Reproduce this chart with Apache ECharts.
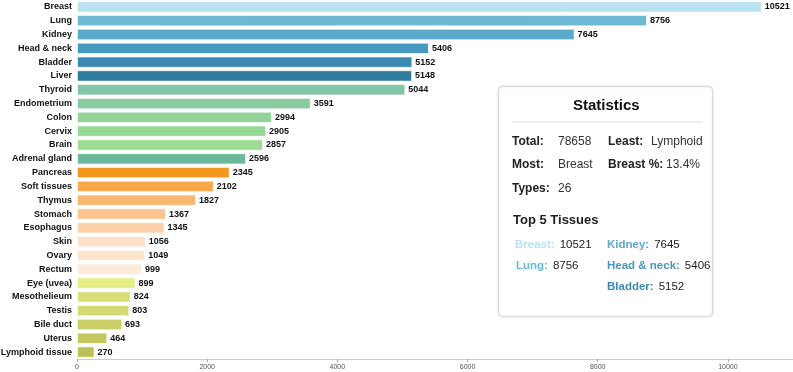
<!DOCTYPE html>
<html lang="en">
<head>
    <meta charset="UTF-8">
    <title>Tissue samples</title>
    <style type="text/css">
    body, html {
        width: 100%;
        height: 100%;
        margin: 0;
        padding: 0;
        background: #fff;
    }
    #main {
        width: 793px;
        height: 372px;
    }
    </style>
</head>
<body>
    <div id="main"></div>
    <script src="https://cdn.jsdelivr.net/npm/echarts@6/dist/echarts.min.js"></script>
    <script type="text/javascript">

    // tissues, top to bottom
    var tissues = ['Breast', 'Lung', 'Kidney', 'Head & neck', 'Bladder', 'Liver', 'Thyroid', 'Endometrium',
        'Colon', 'Cervix', 'Brain', 'Adrenal gland', 'Pancreas', 'Soft tissues', 'Thymus', 'Stomach',
        'Esophagus', 'Skin', 'Ovary', 'Rectum', 'Eye (uvea)', 'Mesothelieum', 'Testis', 'Bile duct',
        'Uterus', 'Lymphoid tissue'];
    var counts = [10521, 8756, 7645, 5406, 5152, 5148, 5044, 3591, 2994, 2905, 2857, 2596, 2345, 2102,
        1827, 1367, 1345, 1056, 1049, 999, 899, 824, 803, 693, 464, 270];
    var barColors = ['#b8e2f0', '#6cb8d5', '#5ba9c9', '#4798be', '#3c89b3', '#2f7ca0', '#84c4a8', '#8ccb9f',
        '#93d39a', '#98d895', '#9ddd93', '#6bb89b', '#f5961f', '#f8a84c', '#f9b572', '#fbc592',
        '#fcd0a8', '#fde2c8', '#fde4cc', '#fdeadb', '#e5ee84', '#d8df79', '#d4db74', '#c9cf66',
        '#c3c75e', '#bbc157'];
    var axisTicks = [0, 2000, 4000, 6000, 8000, 10000];

    var total = 0;
    for (var i = 0; i < counts.length; i++) total += counts[i];
    var pct = (counts[0] / total * 100).toFixed(1) + '%';

    var font = 'Liberation Sans, Arial, sans-serif';
    var chart = echarts.init(document.getElementById('main'));

    function txt(x, y, s, opt) {
        opt = opt || {};
        return {
            type: 'text', left: x, top: y,
            style: {
                text: s, fill: opt.color || '#222', font: (opt.bold ? 'bold ' : '') + (opt.size || 12) + 'px ' + font
            }
        };
    }

    var bx = 498, by = 86;
    var stats = [
        { type: 'rect', left: bx, top: by, shape: { width: 214, height: 230, r: 4 },
          style: { fill: '#fff', stroke: '#d8d8d8', lineWidth: 1, shadowBlur: 3, shadowColor: 'rgba(0,0,0,0.12)' } },
        txt(bx + 75, by + 12, 'Statistics', { bold: true, size: 15, color: '#111' }),
        { type: 'line', shape: { x1: bx + 14, y1: by + 36, x2: bx + 204, y2: by + 36 },
          style: { stroke: '#ddd', lineWidth: 1 } },
        txt(bx + 14, by + 50, 'Total:', { bold: true }),
        txt(bx + 60, by + 50, String(total), { color: '#333' }),
        txt(bx + 110, by + 50, 'Least:', { bold: true }),
        txt(bx + 153, by + 50, tissues[tissues.length - 1].split(' ')[0], { color: '#333' }),
        txt(bx + 14, by + 73, 'Most:', { bold: true }),
        txt(bx + 60, by + 73, tissues[0], { color: '#333' }),
        txt(bx + 110, by + 73, tissues[0] + ' %:', { bold: true }),
        txt(bx + 168, by + 73, pct, { color: '#333' }),
        txt(bx + 14, by + 97, 'Types:', { bold: true }),
        txt(bx + 60, by + 97, String(tissues.length), { color: '#333' }),
        txt(bx + 15, by + 128, 'Top 5 Tissues', { bold: true, size: 13 })
    ];
    // top 5 grid
    var top5pos = [[bx + 17, by + 153], [bx + 18, by + 174], [bx + 109, by + 153], [bx + 109, by + 174], [bx + 109, by + 195]];
    for (var k = 0; k < 5; k++) {
        var label = tissues[k] + ':';
        var w = echarts.format.getTextRect ? echarts.format.getTextRect(label, 'bold 11.5px ' + font).width : label.length * 6.5;
        stats.push(txt(top5pos[k][0], top5pos[k][1], label, { bold: true, color: barColors[k], size: 11.5 }));
        stats.push(txt(top5pos[k][0] + w + 5, top5pos[k][1], String(counts[k]), { color: '#222', size: 11.5 }));
    }

    var option = {
        animation: false,
        grid: {
            left: 77,
            right: 0,
            top: 0,
            bottom: 13,
            outerBoundsMode: 'none'
        },
        xAxis: {
            type: 'value',
            min: axisTicks[0],
            max: 11000,
            interval: axisTicks[1] - axisTicks[0],
            splitLine: { show: false },
            axisLine: { show: true, lineStyle: { color: '#ccc' } },
            axisTick: { show: true, length: 3, lineStyle: { color: '#aaa' } },
            axisLabel: {
                fontSize: 7, color: '#555', fontFamily: font, margin: 5, showMaxLabel: false,
                formatter: function (v) { return String(v); }
            }
        },
        yAxis: {
            type: 'category',
            inverse: true,
            data: tissues,
            axisLine: { show: false },
            axisTick: { show: false },
            axisLabel: { fontSize: 9, fontWeight: 'bold', color: '#111', fontFamily: font, margin: 5 }
        },
        series: [{
            type: 'bar',
            barCategoryGap: '18%',
            data: counts.map(function (v, i) {
                return { value: v, itemStyle: { color: barColors[i] } };
            }),
            itemStyle: { borderColor: 'rgba(255,255,255,0.6)', borderWidth: 1 },
            label: {
                show: true,
                position: 'right',
                distance: 3,
                fontSize: 9,
                fontWeight: 'bold',
                color: '#111',
                fontFamily: font
            }
        }],
        graphic: stats
    };

    chart.setOption(option);
    </script>
</body>
</html>
